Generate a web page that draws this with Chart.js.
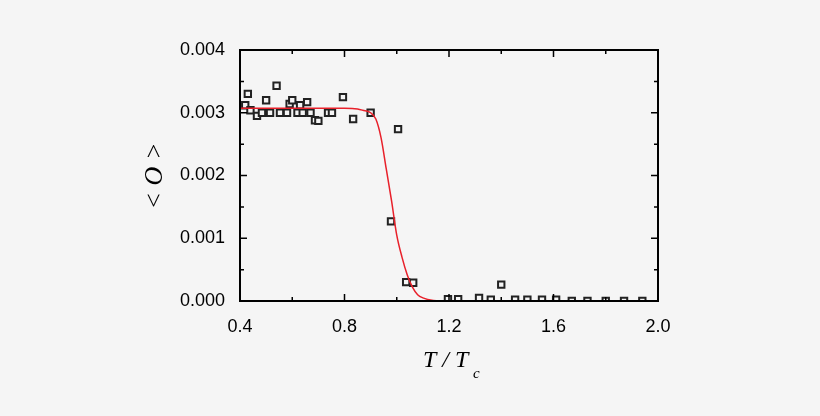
<!DOCTYPE html>
<html><head><meta charset="utf-8">
<script src="https://cdn.jsdelivr.net/npm/chart.js@4"></script>
<style>html,body{margin:0;background:#f5f5f5}#w{width:820px;height:416px}</style>
</head><body><div id="w"><canvas id="c"></canvas></div>
<script>
const dataX=[0.42,0.43,0.44,0.465,0.484,0.50,0.515,0.54,0.553,0.58,0.59,0.60,0.62,0.63,0.64,0.657,0.67,0.687,0.70,0.737,0.752,0.794,0.833,0.90,1.005,0.978,1.036,1.063,1.196,1.235,1.315,1.36,1.40,1.453,1.50,1.556,1.61,1.67,1.73,1.80,1.87,1.94];
const dataY=[0.00312,0.0033,0.00304,0.00295,0.0030,0.0032,0.0030,0.00343,0.0030,0.0030,0.00314,0.0032,0.0030,0.00312,0.0030,0.00317,0.0030,0.00288,0.00287,0.0030,0.0030,0.00325,0.0029,0.0030,0.00274,0.00127,0.0003,0.00029,0.00003,0.00003,0.00005,0.00002,0.00026,0.00002,0.00002,0.00002,0.00002,0,0,0,0,0];
const fitX=[0.4,0.6,0.8,0.85,0.87,0.9,0.92,0.94,0.96,0.98,1.0,1.02,1.04,1.06,1.08,1.1,1.14,1.2,1.6,2.0];
const fitY=[0.00307,0.00307,0.00307,0.00306,0.00304,0.0030,0.0029,0.0026,0.0021,0.0016,0.00105,0.0007,0.00042,0.00022,0.0001,0.00005,0.00001,0,0,0];
const xTicks=[0.4,0.8,1.2,1.6,2.0];
const yTicks=[0,0.001,0.002,0.003,0.004];
const frame={id:'frame',afterDraw(ch){
 const c=ch.ctx,a=ch.chartArea,xs=ch.scales.x,ys=ch.scales.y;
 c.save();c.strokeStyle='#000';c.lineWidth=2;
 c.strokeRect(a.left,a.top,a.right-a.left,a.bottom-a.top);
 c.lineWidth=1.5;c.beginPath();
 for(let v=0.4;v<=2.001;v+=0.2){const p=xs.getPixelForValue(v);const L=(Math.round(v*10)%4==0)?7:4;
  c.moveTo(p,a.bottom);c.lineTo(p,a.bottom-L);c.moveTo(p,a.top);c.lineTo(p,a.top+L);}
 for(let v=0;v<=0.004001;v+=0.0005){const p=ys.getPixelForValue(v);const L=(Math.round(v*10000)%10==0)?7:4;
  c.moveTo(a.left,p);c.lineTo(a.left+L,p);c.moveTo(a.right,p);c.lineTo(a.right-L,p);}
 c.stroke();
 c.fillStyle='#000';c.font='italic 24px "Liberation Serif"';c.textBaseline='alphabetic';
 c.fillText('T / T',423,367);c.font='italic 15px "Liberation Serif"';c.fillText('c',473,378);
 c.translate(162,176);c.rotate(-Math.PI/2);c.font='italic 26px "Liberation Serif"';c.textAlign='center';
 c.fillText('< O >',0,0);c.restore();}};
new Chart(document.getElementById('c'),{
 data:{datasets:[
  {type:'line',data:fitX.map((x,i)=>({x,y:fitY[i]})),borderColor:'#e8202a',borderWidth:1.5,pointRadius:0,cubicInterpolationMode:'monotone'},
  {type:'scatter',data:dataX.map((x,i)=>({x,y:dataY[i]})),pointStyle:'rect',pointRadius:4.5,borderColor:'#222',borderWidth:2,backgroundColor:'#f5f5f5'}]},
 options:{responsive:true,maintainAspectRatio:false,animation:false,
  layout:{padding:{top:50,right:162,left:0,bottom:0}},
  plugins:{legend:{display:false},tooltip:{enabled:false}},
  scales:{
   x:{type:'linear',min:0.4,max:2.0,afterBuildTicks:s=>{s.ticks=xTicks.map(v=>({value:v}))},
      afterFit:s=>{s.height=115},grid:{display:false},border:{display:false},
      ticks:{color:'#000',font:{family:'Liberation Sans',size:18},padding:7,callback:v=>v.toFixed(1)}},
   y:{min:0,max:0.004,afterBuildTicks:s=>{s.ticks=yTicks.map(v=>({value:v}))},
      afterFit:s=>{s.width=240},grid:{display:false},border:{display:false},
      ticks:{color:'#000',font:{family:'Liberation Sans',size:18},padding:7,callback:v=>v.toFixed(3)}}}},
 plugins:[frame]});
</script></body></html>
